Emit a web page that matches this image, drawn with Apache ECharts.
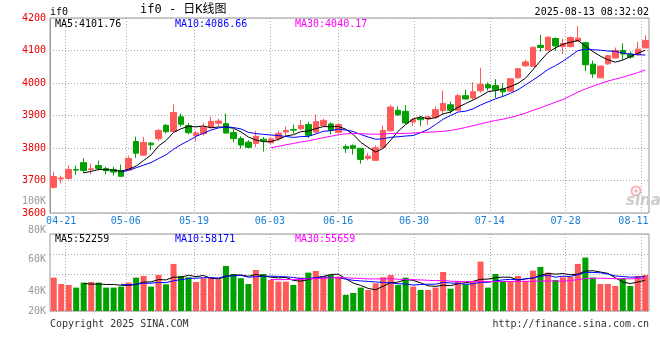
<!DOCTYPE html>
<html><head><meta charset="utf-8">
<script src="https://cdn.jsdelivr.net/npm/echarts@6/dist/echarts.min.js"></script>
<style>html,body{margin:0;padding:0;background:#fff}#c{width:660px;height:360px}</style>
</head><body><div id="c"></div>
<script>
// ---------- data ----------
const dates = ['04-17','04-18','04-21','04-22','04-23','04-24','04-25','04-28','04-29','04-30',
'05-06','05-07','05-08','05-09','05-12','05-13','05-14','05-15','05-16','05-19',
'05-20','05-21','05-22','05-23','05-26','05-27','05-28','05-29','05-30','06-03',
'06-04','06-05','06-06','06-09','06-10','06-11','06-12','06-13','06-16','06-17',
'06-18','06-19','06-20','06-23','06-24','06-25','06-26','06-27','06-30','07-01',
'07-02','07-03','07-04','07-07','07-08','07-09','07-10','07-11','07-14','07-15',
'07-16','07-17','07-18','07-21','07-22','07-23','07-24','07-25','07-28','07-29',
'07-30','07-31','08-01','08-04','08-05','08-06','08-07','08-08','08-11','08-12'];
const tickLabels = ['04-21','05-06','05-19','06-03','06-16','06-30','07-14','07-28','08-11'];

const openP = [3679,3705,3706,3734,3755,3734,3746,3737,3734,3731,
3732,3820,3778,3815,3829,3870,3851,3896,3869,3839,
3844,3864,3876,3875,3848,3829,3818,3814,3827,3816,
3829,3849,3857,3859,3872,3849,3869,3874,3848,3804,
3807,3799,3768,3762,3802,3853,3916,3913,3880,3892,
3889,3895,3915,3933,3916,3961,3954,3976,3995,3992,
3982,3975,4016,4053,4051,4116,4101,4137,4112,4112,
4129,4124,4058,4016,4059,4077,4100,4089,4087,4108];
const closeP = [3712,3708,3734,3732,3731,3736,3737,3730,3726,3713,
3768,3784,3817,3810,3854,3850,3909,3873,3847,3846,
3864,3882,3883,3846,3829,3809,3802,3836,3822,3828,
3845,3854,3855,3869,3839,3881,3885,3854,3872,3798,
3799,3765,3775,3801,3854,3926,3902,3877,3887,3887,
3896,3918,3937,3916,3961,3951,3973,3996,3985,3979,
3973,4013,4044,4065,4110,4109,4141,4114,4122,4140,
4138,4056,4028,4052,4084,4100,4089,4080,4104,4131];
const lowP = [3675,3691,3703,3718,3723,3719,3731,3719,3715,3712,
3731,3770,3775,3793,3821,3845,3850,3865,3842,3821,
3838,3860,3867,3845,3818,3798,3799,3802,3789,3813,
3821,3836,3844,3855,3831,3845,3865,3842,3845,3785,
3780,3752,3762,3760,3800,3850,3899,3874,3867,3867,
3871,3891,3904,3906,3915,3949,3949,3971,3977,3954,
3960,3973,4013,4049,4049,4097,4099,4099,4089,4109,
4127,4036,4016,4015,4056,4075,4072,4075,4085,4107];
const highP = [3726,3715,3746,3746,3768,3752,3761,3742,3742,3749,
3777,3835,3834,3818,3859,3873,3934,3906,3877,3852,
3877,3897,3890,3906,3858,3836,3824,3853,3834,3834,
3853,3866,3872,3886,3880,3903,3890,3879,3877,3811,
3811,3799,3785,3808,3869,3933,3928,3932,3892,3899,
3899,3928,3977,3943,3967,3979,4002,4047,4002,4012,
3999,4014,4046,4072,4111,4148,4143,4140,4136,4143,
4175,4127,4069,4054,4087,4109,4122,4097,4127,4147];

const ma5 = [null,null,null,null,
3723.4,3728.2,3734.0,3733.2,3732.0,3728.4,3734.8,3744.2,3761.6,3778.4,
3806.6,3823.0,3848.0,3859.2,3866.6,3865.0,3867.8,3862.4,3864.4,3864.2,
3860.8,3849.8,3833.8,3824.4,3819.6,3819.4,3826.6,3837.0,3840.8,3850.2,
3852.4,3859.6,3865.8,3865.6,3866.2,3858.0,3841.6,3817.6,3801.8,3787.6,
3798.8,3824.2,3851.6,3872.0,3889.2,3895.8,3889.8,3893.0,3905.0,3910.8,
3925.6,3936.6,3947.6,3959.4,3973.2,3976.8,3981.2,3989.2,3998.8,4014.8,
4041.0,4068.2,4093.8,4107.8,4119.2,4125.2,4131.0,4114.0,4096.8,4082.8,
4071.6,4064.0,4070.6,4081.0,4091.4,4100.8];
const ma10 = [null,null,null,null,null,null,null,null,null,
3725.9,3731.5,3739.1,3747.4,3755.2,3767.5,3778.9,3796.1,3810.4,3822.5,
3835.8,3845.4,3855.2,3861.8,3865.4,3862.9,3858.8,3848.1,3844.4,3841.9,
3840.1,3838.2,3835.4,3832.6,3834.9,3835.9,3843.1,3851.4,3853.2,3858.2,
3855.2,3850.6,3841.7,3833.7,3826.9,3828.4,3832.9,3834.6,3836.9,3838.4,
3847.3,3857.0,3872.3,3888.5,3900.0,3910.7,3913.2,3920.3,3932.2,3942.0,
3951.2,3958.9,3968.4,3979.1,3994.0,4008.9,4024.7,4041.5,4053.3,4067.0,
4083.1,4099.6,4103.9,4102.3,4101.0,4098.4,4097.5,4092.3,4088.9,4087.1,4086.2];
const ma30 = [null,null,null,null,null,null,null,null,null,null,
null,null,null,null,null,null,null,null,null,null,
null,null,null,null,null,null,null,null,null,
3800.6,3805.0,3809.9,3813.9,3818.5,3822.1,3826.9,3831.9,3836.0,3840.9,
3843.7,3844.7,3844.1,3842.7,3842.4,3842.4,3844.9,3844.7,3844.8,3846.2,
3847.5,3848.6,3849.8,3851.6,3853.9,3858.3,3863.1,3868.8,3874.1,3879.5,
3884.6,3888.8,3894.1,3900.4,3907.0,3916.0,3923.6,3932.1,3940.8,3949.1,
3960.5,3971.8,3981.5,3990.0,3998.3,4006.0,4011.8,4018.0,4024.8,4032.0,4040.2];

const volume = [56800,46000,44300,39800,48300,49400,48300,39800,39800,41500,
48300,56800,59600,41500,61300,45400,80100,59600,57400,49400,
55700,56800,53900,76700,63000,55700,46000,69800,63000,52800,
50000,50000,44300,56800,65300,68100,59600,61300,58500,27300,
30700,39800,35800,47100,57400,61300,44300,56800,41500,35800,
35800,39800,66400,38000,51100,45400,51100,84000,39800,63000,
50000,50000,59600,51100,68700,75000,65300,52800,57400,57900,
80100,90900,56800,46000,46000,42600,55700,42600,59600,61300];
const volMa5 = [null,null,null,null,
47000,45600,46000,45100,45100,43800,43500,45200,49200,49500,
53500,52900,57600,57600,60800,58400,60400,55800,54600,58500,
61200,61200,59100,62200,59500,57500,56300,57100,52000,50800,
53300,56900,58800,62200,62600,55000,47500,43500,38400,36100,
42200,48300,49200,53400,52300,47900,42800,41900,43900,43200,
46200,48100,50400,53900,54300,56700,57600,57400,52500,54700,
55900,60900,63900,62600,63800,61700,62700,67800,68600,66300,
64000,56500,49400,46600,49300,52400];
const volMa10 = [null,null,null,null,null,null,null,null,null,
45400,44600,45600,47200,47300,48600,48200,51400,53400,55200,
55900,56700,56700,56100,59600,59800,60800,57400,58400,59000,
59300,58800,58100,57100,55100,55400,56600,58000,57100,56700,
54100,52200,51200,50300,49400,48600,47900,46400,45900,44200,
45100,45600,45600,48600,47700,47100,45500,46200,48900,48700,
51400,52900,53900,53200,54500,56300,59200,60700,57500,59300,
58800,61800,65900,65600,65100,62800,59600,58600,57600,57800,58200];
const volMa30 = [null,null,null,null,null,null,null,null,null,null,
null,null,null,null,null,null,null,null,null,null,
null,null,null,null,null,null,null,null,null,
53600,53300,53500,53500,54000,54600,55200,55600,56300,56900,
56500,55900,55300,54500,54700,54600,55100,53900,53800,53300,
52800,52200,51600,52000,50700,50300,50000,50200,50600,49900,
50200,50200,50200,50700,50500,50600,50900,51100,50800,50700,
51800,53400,55100,55800,55800,55400,54800,55100,54700,55300,56100];

const volTickLabels = ['20K','40K','60K','80K','100K'];
const priceMaText = ['MA5:4101.76','MA10:4086.66','MA30:4040.17'];
const volMaText = ['MA5:52259','MA10:58171','MA30:55659'];

// ---------- layout / style ----------
const volLabelPos = [0, 20, 52, 81, 110];   // label placement on helper axis (px from panel bottom)
const MONO = 'DejaVu Sans Mono';
const UP = '#ff5a5a', DOWN = '#00a000';
const MA_COLORS = ['#000000', '#0000ff', '#ff00ff'];
const gridLine = {show: true, lineStyle: {color: '#aaaaaa', type: [1, 2], width: 1}};
const isTick = (i, v) => tickLabels.indexOf(v) >= 0;
const candles = dates.map((d, i) => [openP[i], closeP[i], lowP[i], highP[i]]);

const txt = (text, pos, color, size) => Object.assign({
  text: text, padding: 0,
  textStyle: {fontFamily: MONO + ', Noto Sans CJK SC', fontSize: size || 10, fontWeight: 'normal',
    color: color || '#000', lineHeight: (size || 10) + 2}
}, pos);

const lineSeries = (name, data, color, xi, yi) => ({
  name: name, type: 'line', data: data, xAxisIndex: xi, yAxisIndex: yi,
  symbol: 'none', silent: true, connectNulls: false,
  lineStyle: {color: color, width: 1}, itemStyle: {color: color}, z: 5
});

const chart = echarts.init(document.getElementById('c'));
chart.setOption({
  animation: false,
  backgroundColor: '#fff',
  title: [
    txt('if0', {left: 50, top: 6}),
    txt('if0 - 日K线图', {left: 140, top: 3}, '#000', 12),
    txt('2025-08-13 08:32:02', {right: 11, top: 6}),
    txt(priceMaText[0], {left: 55, top: 18}, MA_COLORS[0]),
    txt(priceMaText[1], {left: 175, top: 18}, MA_COLORS[1]),
    txt(priceMaText[2], {left: 295, top: 18}, MA_COLORS[2]),
    txt(volMaText[0], {left: 55, top: 233}, MA_COLORS[0]),
    txt(volMaText[1], {left: 175, top: 233}, MA_COLORS[1]),
    txt(volMaText[2], {left: 295, top: 233}, MA_COLORS[2]),
    txt('Copyright 2025 SINA.COM', {left: 50, top: 318}, '#333'),
    txt('http://finance.sina.com.cn', {right: 11, top: 318}, '#333')
  ],
  graphic: [
    {type: 'circle', shape: {cx: 636, cy: 191, r: 4.5}, style: {fill: 'none', stroke: '#f3b3b3', lineWidth: 2}, z: 1},
    {type: 'circle', shape: {cx: 636, cy: 191, r: 1.8}, style: {fill: '#f3b3b3'}, z: 1},
    {type: 'text', x: 626, y: 201, z: 1,
      style: {text: 'sina', fill: '#cccccc', font: 'italic bold 15px DejaVu Sans',
        textVerticalAlign: 'middle', verticalAlign: 'middle'}}
  ],
  grid: [
    {left: 50, right: 11, top: 18, height: 195, show: true, borderColor: '#999', borderWidth: 1},
    {left: 50, right: 11, top: 234, height: 77, show: true, borderColor: '#999', borderWidth: 1},
    {left: 50, right: 11, top: 195, height: 116, show: false}
  ],
  xAxis: [
    {type: 'category', gridIndex: 0, data: dates, boundaryGap: true,
      axisLine: {show: false}, axisTick: {show: false}, axisLabel: {show: false}, splitLine: {show: false}},
    {type: 'category', gridIndex: 0, data: dates, boundaryGap: false, position: 'bottom',
      axisLine: {show: false}, axisTick: {show: false},
      axisLabel: {interval: isTick, color: '#1a7fd6', fontFamily: MONO, fontSize: 10, margin: 3,
        formatter: v => v === '08-11' ? '{r|' + v + '}' : (v === '04-21' ? '{l|' + v + '}' : v),
        rich: {
          r: {padding: [0, 16, 0, 0], color: '#1a7fd6', fontFamily: MONO, fontSize: 10},
          l: {padding: [0, 8, 0, 0], color: '#1a7fd6', fontFamily: MONO, fontSize: 10}
        }},
      splitLine: Object.assign({interval: isTick}, gridLine)},
    {type: 'category', gridIndex: 1, data: dates, boundaryGap: true, show: false},
    {type: 'category', gridIndex: 1, data: dates, boundaryGap: false,
      axisLine: {show: false}, axisTick: {show: false}, axisLabel: {show: false},
      splitLine: Object.assign({interval: isTick}, gridLine)},
    {type: 'value', gridIndex: 2, min: 0, max: 1, show: false}
  ],
  yAxis: [
    {type: 'value', gridIndex: 0, min: 3600, max: 4200, interval: 100,
      axisLine: {show: true, lineStyle: {color: '#999', width: 1}}, axisTick: {show: false},
      axisLabel: {color: '#ee0000', fontFamily: MONO, fontSize: 10, margin: 4, formatter: v => String(v)},
      splitLine: gridLine},
    {type: 'value', gridIndex: 1, min: 0, max: 131000,
      axisLine: {show: false}, axisTick: {show: false}, axisLabel: {show: false}, splitLine: {show: false}},
    {type: 'value', gridIndex: 1, min: 0, max: 77, interval: 20, inverse: true, position: 'left',
      axisLine: {show: false}, axisTick: {show: false}, axisLabel: {show: false}, splitLine: gridLine},
    {type: 'value', gridIndex: 2, min: 0, max: 116, position: 'left',
      axisLine: {show: false}, axisTick: {show: false}, splitLine: {show: false},
      axisLabel: {customValues: volLabelPos, formatter: v => volTickLabels[volLabelPos.indexOf(v)] || '',
        color: '#999', fontFamily: MONO, fontSize: 10, margin: 4}}
  ],
  series: [
    {name: 'K', type: 'candlestick', data: candles, xAxisIndex: 0, yAxisIndex: 0, barWidth: 6,
      silent: true,
      itemStyle: {color: UP, color0: DOWN, borderColor: UP, borderColor0: DOWN, borderWidth: 1}},
    lineSeries('MA5', ma5, MA_COLORS[0], 0, 0),
    lineSeries('MA10', ma10, MA_COLORS[1], 0, 0),
    lineSeries('MA30', ma30, MA_COLORS[2], 0, 0),
    {name: 'VOL', type: 'bar', data: volume, xAxisIndex: 2, yAxisIndex: 1, barWidth: 6, silent: true,
      itemStyle: {color: p => closeP[p.dataIndex] >= openP[p.dataIndex] ? UP : DOWN}},
    lineSeries('VMA5', volMa5, MA_COLORS[0], 2, 1),
    lineSeries('VMA10', volMa10, MA_COLORS[1], 2, 1),
    lineSeries('VMA30', volMa30, MA_COLORS[2], 2, 1)
  ]
});
</script>
</body></html>
